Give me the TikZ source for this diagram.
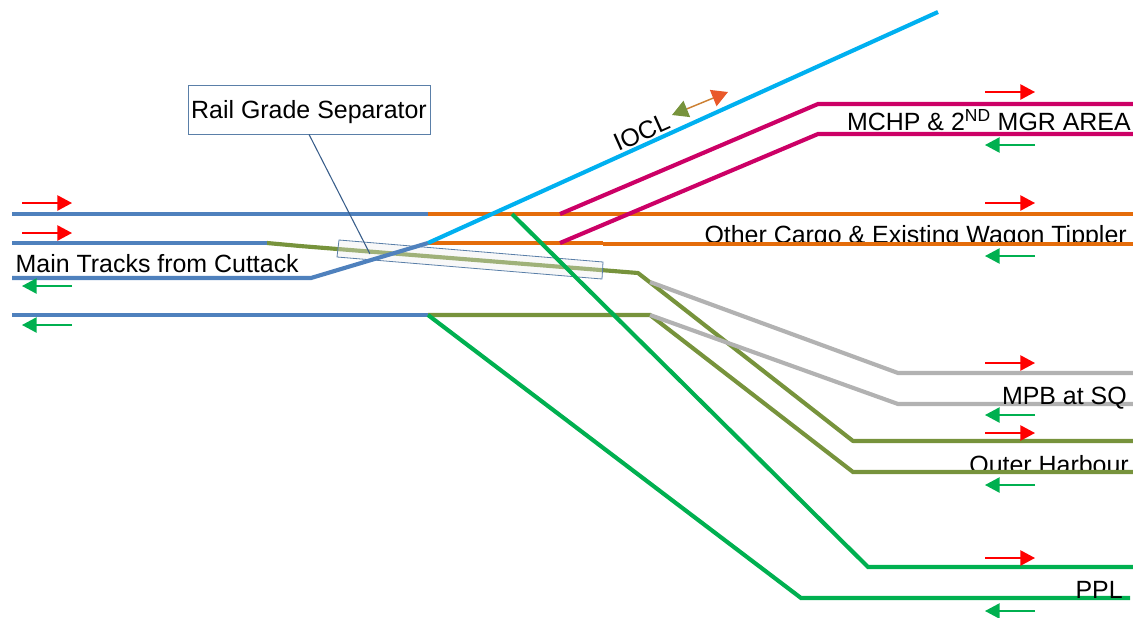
\documentclass[tikz,border=0pt]{standalone}
\usepackage{fontspec}
\setmainfont{Liberation Sans}
\usetikzlibrary{arrows.meta}
\definecolor{trackblue}{HTML}{4F81BD}
\definecolor{trackorange}{HTML}{E46C0A}
\definecolor{trackcyan}{HTML}{00B0F0}
\definecolor{trackpink}{HTML}{CC0066}
\definecolor{trackgreen}{HTML}{00B050}
\definecolor{trackolive}{HTML}{77933C}
\definecolor{trackgrey}{HTML}{B2B2B2}
\definecolor{boxline}{HTML}{5A7FA8}
\definecolor{pointer}{HTML}{385D8A}
\definecolor{headorange}{HTML}{E9592A}
\tikzset{
    track/.style={line width=3.1pt},
    upflow/.style={red,line width=1.1pt,-{Triangle[length=11pt,width=11.5pt]}},
    downflow/.style={trackgreen,line width=1.1pt,-{Triangle[length=11pt,width=11.5pt]}},
    label/.style={font=\fontsize{18.7}{22}\selectfont,inner sep=0pt,anchor=base east},
}
\begin{document}
\begin{tikzpicture}[x=0.75pt,y=-0.75pt]
    \useasboundingbox (0,0) rectangle (1133,618);

    % Junctions
    \coordinate (mainA) at (428,214);
    \coordinate (mainB) at (428,243);
    \coordinate (mainC) at (311,278);
    \coordinate (mainD) at (428,315);
    \coordinate (oliveA) at (267,243);
    \coordinate (oliveB) at (638,273);
    \coordinate (oliveC) at (650,315);
    \coordinate (greyA) at (650,282);
    \coordinate (pinkA) at (560,214);
    \coordinate (pinkB) at (560,243);
    \coordinate (pplA) at (512,214);
    \coordinate (ioclEnd) at (938,12);

    % Labels go under the tracks
    \node[label] (mainlabel) at (299,272) {Main Tracks from Cuttack};
    \node[label] (mchplabel) at (1131,130) {MCHP \& 2\textsuperscript{ND} MGR AREA};
    \begin{scope}
        \clip (600,200) rectangle (1133,244);
        \node[label] (cargolabel) at (1127,243) {Other Cargo \& Existing Wagon Tippler};
    \end{scope}
    \node[label] (harbourlabel) at (1129,473) {Outer Harbour};
    \node[label,anchor=base,rotate=24] (iocllabel) at (645,140) {IOCL};

    % Olive through line, under the separator box
    \draw[track,trackolive,line join=round] (oliveA) -- (300,246) -- (oliveB) -- (853,441) -- (1133,441);

    % Rail grade separator box
    \draw[boxline,fill=black!8,fill opacity=0.35,line width=0.6pt]
        (339,240) -- (603,262) -- (602,279) -- (337,257) -- cycle;

    % Main tracks
    \draw[track,trackblue] (12,214) -- (mainA);
    \draw[track,trackblue] (12,243) -- (oliveA);
    \draw[track,trackblue] (12,278) -- (mainC) -- (mainB);
    \draw[track,trackblue] (12,315) -- (mainD);

    % Branches
    \draw[track,trackorange] (mainA) -- (1133,214);
    \draw[track,trackorange] (mainB) -- (603,243);
    \draw[track,trackorange] (603,244) -- (1133,244);
    \draw[track,trackcyan] (mainB) -- (ioclEnd);
    \draw[track,trackpink] (pinkA) -- (818,104) -- (1133,104);
    \draw[track,trackpink] (pinkB) -- (818,134) -- (1133,134);
    \draw[track,trackgrey] (greyA) -- (898,373) -- (1133,373);
    \draw[track,trackolive] (mainD) -- (oliveC) -- (853,472) -- (1133,472);
    \draw[track,trackgrey] (oliveC) -- (898,404) -- (1133,404);
    \draw[track,trackgreen] (pplA) -- (868,567) -- (1133,567);
    \draw[track,trackgreen] (mainD) -- (801,598) -- (1130,598);

    % These two sit over their tracks
    \node[label] (mpblabel) at (1127,404) {MPB at SQ};
    \node[label] (ppllabel) at (1123,598) {PPL};

    % Callout
    \node[draw=boxline,fill=white,line width=0.6pt,minimum width=181.5pt,minimum height=36.75pt,
        inner sep=0pt,text height=13.5pt,text depth=0pt,font=\fontsize{18.7}{22}\selectfont] (separator) at (309,109.5) {Rail Grade Separator};
    \coordinate (separatorfoot) at (370,254);
    \draw[pointer,line width=0.8pt] (separator.south) -- (separatorfoot);

    % Flow arrows, left side
    \foreach \y in {203,233} {
        \draw[upflow] (22,\y) -- (72,\y);
    }
    \foreach \y in {286,325} {
        \draw[downflow] (72,\y) -- (22,\y);
    }

    % Flow arrows, right side
    \foreach \y in {92,203,363,433,558} {
        \draw[upflow] (985,\y) -- (1035,\y);
    }
    \foreach \y in {145,256,415,485,611} {
        \draw[downflow] (1035,\y) -- (985,\y);
    }

    % IOCL arrow
    \coordinate (ioclA) at (672,115);
    \coordinate (ioclB) at (728,92);
    \draw[brown!80!orange,line width=1.1pt,
        {Triangle[length=12pt,width=13pt,color=trackolive]}-{Triangle[length=12pt,width=13pt,color=headorange]}]
        (ioclA) -- (ioclB);
\end{tikzpicture}
\end{document}
